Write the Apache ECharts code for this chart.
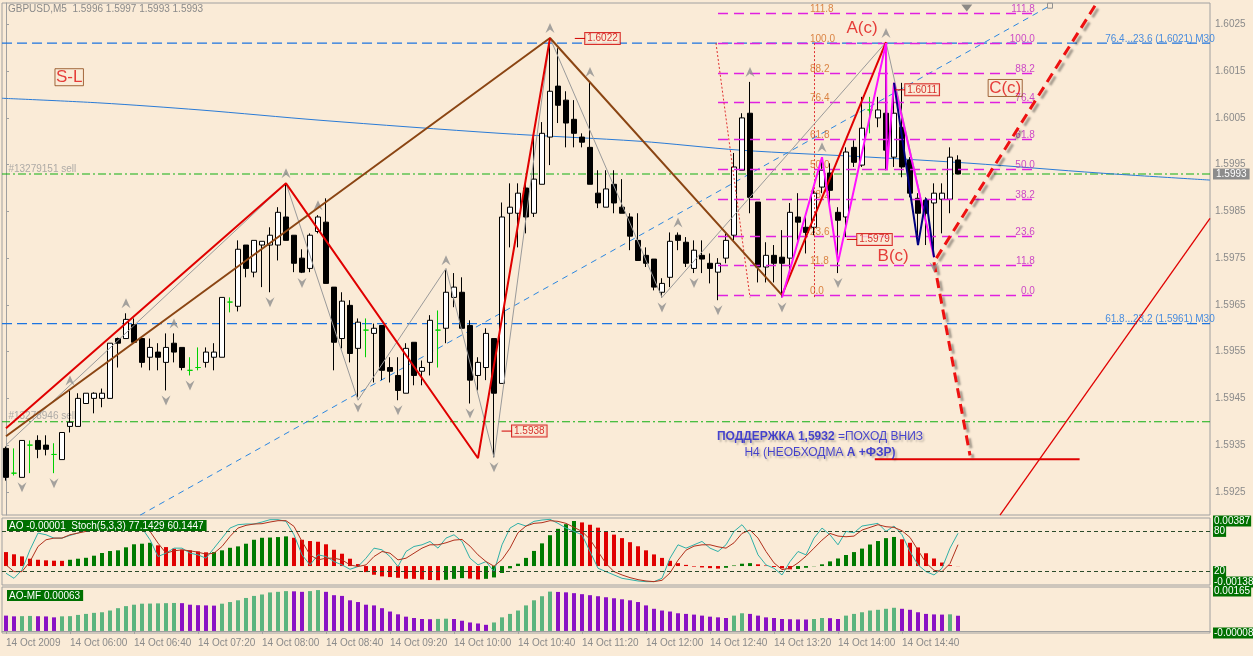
<!DOCTYPE html>
<html><head><meta charset="utf-8">
<script src="https://cdn.jsdelivr.net/npm/echarts@6/dist/echarts.min.js"></script>
<style>html,body{margin:0;padding:0;background:#faebd7;}#c{width:1253px;height:656px;}</style>
</head><body><div id="c"></div>
<script>
// ---------------- DATA ----------------
const symbolName = 'GBPUSD,M5';
const startTime = '05:20';
const slotCount = 151;
const opens=[1.59343,1.59290,1.59281,1.59350,1.59360,1.59350,1.59330,1.59319,1.59390,1.59390,1.59439,1.59450,1.59450,1.59450,1.59578,1.59578,1.59608,1.59578,1.59538,1.59549,1.59527,1.59568,1.59559,1.59510,1.59516,1.59527,1.59538,1.59538,1.59656,1.59647,1.59778,1.59720,1.59778,1.59778,1.59778,1.59838,1.59799,1.59750,1.59728,1.59807,1.59827,1.59688,1.59578,1.59649,1.59557,1.59596,1.59589,1.59606,1.59516,1.59499,1.59461,1.59570,1.59508,1.59527,1.59596,1.59600,1.59666,1.59677,1.59606,1.59499,1.59516,1.59578,1.59482,1.59846,1.59846,1.59900,1.59846,1.59908,1.60009,1.60118,1.60088,1.60047,1.60009,1.59987,1.59889,1.59859,1.59908,1.59859,1.59838,1.59788,1.59756,1.59748,1.59677,1.59709,1.59799,1.59784,1.59728,1.59756,1.59739,1.59720,1.59750,1.59799,1.59938,1.60060,1.59870,1.59731,1.59756,1.59752,1.59750,1.59838,1.59816,1.59816,1.59902,1.59932,1.59848,1.59838,1.59987,1.59949,1.60067,1.60050,1.60060,1.59966,1.60030,1.59960,1.59878,1.59874,1.59868,1.59876,1.59876,1.59960];
const closes=[1.59281,1.59290,1.59360,1.59350,1.59341,1.59341,1.59330,1.59377,1.59399,1.59450,1.59461,1.59461,1.59461,1.59568,1.59568,1.59619,1.59570,1.59527,1.59559,1.59538,1.59559,1.59549,1.59516,1.59510,1.59516,1.59549,1.59549,1.59666,1.59656,1.59769,1.59728,1.59788,1.59786,1.59799,1.59848,1.59788,1.59739,1.59720,1.59799,1.59838,1.59696,1.59570,1.59658,1.59546,1.59613,1.59596,1.59600,1.59510,1.59508,1.59467,1.59557,1.59499,1.59516,1.59617,1.59596,1.59677,1.59688,1.59600,1.59489,1.59527,1.59589,1.59461,1.59838,1.59859,1.59889,1.59838,1.59919,1.60017,1.60107,1.60077,1.60039,1.60017,1.59998,1.59908,1.59868,1.59898,1.59868,1.59846,1.59797,1.59745,1.59739,1.59688,1.59696,1.59786,1.59788,1.59739,1.59767,1.59748,1.59728,1.59739,1.59788,1.59945,1.60050,1.59880,1.59731,1.59756,1.59739,1.59739,1.59848,1.59827,1.59805,1.59889,1.59938,1.59895,1.59831,1.59977,1.59955,1.60028,1.60067,1.60067,1.59981,1.60060,1.59945,1.59889,1.59846,1.59846,1.59889,1.59889,1.59966,1.59930];
const lows=[1.59274,1.59285,1.59281,1.59290,1.59322,1.59328,1.59290,1.59319,1.59377,1.59390,1.59439,1.59418,1.59431,1.59450,1.59516,1.59578,1.59570,1.59516,1.59510,1.59510,1.59467,1.59527,1.59510,1.59499,1.59510,1.59516,1.59510,1.59538,1.59634,1.59636,1.59709,1.59709,1.59688,1.59677,1.59745,1.59788,1.59720,1.59718,1.59720,1.59803,1.59696,1.59510,1.59557,1.59527,1.59452,1.59538,1.59484,1.59489,1.59484,1.59446,1.59461,1.59478,1.59478,1.59499,1.59516,1.59568,1.59645,1.59600,1.59439,1.59467,1.59489,1.59324,1.59482,1.59773,1.59773,1.59803,1.59838,1.59908,1.59949,1.60039,1.59987,1.59987,1.59987,1.59908,1.59857,1.59859,1.59846,1.59846,1.59767,1.59745,1.59731,1.59681,1.59666,1.59688,1.59767,1.59731,1.59718,1.59718,1.59696,1.59660,1.59739,1.59788,1.59938,1.59846,1.59698,1.59698,1.59698,1.59666,1.59724,1.59788,1.59760,1.59799,1.59889,1.59859,1.59718,1.59795,1.59945,1.59945,1.60017,1.60030,1.59938,1.59945,1.59923,1.59880,1.59788,1.59778,1.59752,1.59803,1.59846,1.59930];
const highs=[1.59347,1.59343,1.59360,1.59360,1.59371,1.59371,1.59354,1.59377,1.59467,1.59461,1.59461,1.59463,1.59471,1.59568,1.59580,1.59632,1.59621,1.59580,1.59578,1.59568,1.59589,1.59589,1.59559,1.59538,1.59559,1.59559,1.59568,1.59666,1.59666,1.59788,1.59778,1.59788,1.59786,1.59816,1.59859,1.59910,1.59799,1.59769,1.59803,1.59842,1.59878,1.59688,1.59677,1.59660,1.59621,1.59621,1.59610,1.59606,1.59538,1.59538,1.59568,1.59570,1.59531,1.59628,1.59638,1.59724,1.59718,1.59709,1.59617,1.59538,1.59600,1.59578,1.59869,1.59910,1.59910,1.59910,1.60017,1.60041,1.60221,1.60199,1.60107,1.60088,1.60017,1.60127,1.59938,1.59938,1.59938,1.59919,1.59846,1.59846,1.59773,1.59748,1.59707,1.59805,1.59805,1.59795,1.59788,1.59788,1.59760,1.59750,1.59803,1.59975,1.60060,1.60127,1.59870,1.59784,1.59778,1.59810,1.59868,1.59889,1.59838,1.59906,1.59966,1.59953,1.59859,1.59987,1.60002,1.60095,1.60095,1.60095,1.60210,1.60125,1.60125,1.59966,1.59889,1.59880,1.59910,1.59910,1.59987,1.59970];

const aoValues=[0.00120,0.00101,0.00083,0.00063,0.00054,0.00049,0.00046,0.00045,0.00054,0.00063,0.00071,0.00089,0.00112,0.00129,0.00135,0.00161,0.00187,0.00192,0.00200,0.00178,0.00163,0.00149,0.00140,0.00135,0.00126,0.00118,0.00120,0.00135,0.00157,0.00169,0.00192,0.00226,0.00243,0.00245,0.00249,0.00255,0.00243,0.00226,0.00215,0.00209,0.00187,0.00140,0.00106,0.00063,0.00017,-0.00052,-0.00075,-0.00089,-0.00095,-0.00101,-0.00109,-0.00110,
-0.00115,-0.00120,-0.00122,-0.00118,-0.00110,-0.00104,-0.00108,-0.00115,-0.00110,-0.00098,-0.00060,-0.00020,0.00020,0.00070,0.00130,0.00195,0.00265,0.00320,0.00360,0.00387,0.00375,0.00355,0.00330,0.00300,0.00270,0.00240,0.00205,0.00170,0.00135,0.00100,0.00070,0.00045,0.00025,0.00010,-0.00005,-0.00012,-0.00018,-0.00022,-0.00015,0.00005,0.00020,0.00025,0.00015,0.00005,-0.00008,-0.00020,-0.00028,-0.00025,-0.00015,-0.00002,0.00015,0.00040,0.00065,0.00095,0.00120,0.00150,0.00185,0.00215,0.00240,0.00250,0.00230,0.00200,0.00160,0.00110,0.00065,0.00030,0.00008,-0.00001];
const stochMain=[17.5,10,22.5,52.5,77.5,75,70,70,74,77.5,82.5,87.5,92.5,92.5,90,90,82.5,85,67.5,42.5,47.5,55,55,47.5,45,40,55,70,85,90,91,91,94,97.5,97.5,95,75,45,30,45,42.5,35,30,23.5,27.5,40,55,52.5,42.5,27.5,50,57.5,
60,65,55,70,75,65,40,30,35,20,60,85,92,88,95,97,98,92,85,80,75,50,25,20,15,10,8,6,5,5,10,40,60,55,60,65,55,50,60,80,90,75,45,30,25,15,35,50,45,70,85,75,60,80,78,88,90,92,80,88,75,50,30,20,15,25,55,77.1429];
const stochSignal=[30,20,20,35,57.5,67.5,70,70,75,77.5,80,85,87.5,91,92.5,94,92.5,90,80,62.5,47.5,51,52.5,51,49,46,47.5,57.5,72.5,85,89,91,91.5,94,96,96,87.5,65,45,37.5,40,40,37.5,30,27.5,30,42.5,50,47.5,37.5,40,47.5,
55,60,60,63,67,68,58,45,35,28,38,55,78,88,92,93,96,95,92,86,80,68,50,32,20,15,11,8,6,5,7,18,37,52,58,60,60,57,55,63,77,82,70,50,33,23,25,33,43,55,67,77,73,72,73,82,86,90,87,86,81,71,52,33,22,20,32,60.1447];
const aomfValues=[0.000635,0.000605,0.000613,0.000622,0.000609,0.000601,0.000563,0.000605,0.000613,0.000664,0.000706,0.000749,0.000774,0.000846,0.000943,0.001028,0.001087,0.001129,0.001134,0.001142,0.001151,0.001159,0.001151,0.001087,0.001066,0.001058,0.001049,0.001129,0.001197,0.001269,0.001366,0.001451,0.001510,0.001595,0.001620,0.001650,0.001641,0.001620,0.001650,0.001692,0.001620,0.001481,0.001451,0.001269,0.001197,0.001087,0.001058,0.000943,0.000804,0.000689,0.000592,0.000537,
0.000495,0.000486,0.000499,0.000508,0.000495,0.000423,0.000351,0.000309,0.000254,0.000351,0.000563,0.000706,0.000846,0.001058,0.001269,0.001438,0.001629,0.001616,0.001599,0.001565,0.001523,0.001481,0.001438,0.001396,0.001354,0.001311,0.001269,0.001197,0.001058,0.000918,0.000846,0.000804,0.000732,0.000706,0.000677,0.000635,0.000592,0.000563,0.000537,0.000635,0.000732,0.000706,0.000635,0.000563,0.000537,0.000495,0.000486,0.000478,0.000474,0.000495,0.000537,0.000529,0.000495,0.000635,0.000706,0.000774,0.000846,0.000876,0.000918,0.000960,0.000918,0.000876,0.000774,0.000706,0.000685,0.000677,0.000689,0.00063];

const priceTicks=[1.5925,1.5935,1.5945,1.5955,1.5965,1.5975,1.5985,1.5995,1.6005,1.6015,1.6025];
const aoTicks=[0.00387,-0.00138];
const stochTicks=[80,20];
const aomfTicks=[0.00165,-0.00008];

// drawn objects (bar index, price)
const redZigzag1=[[0,1.59386],[35,1.59910],[59,1.59322],[68,1.60221]];
const redZigzag2=[[97,1.59671],[110,1.60212]];
const brownZigzag=[[0,1.59369],[68,1.60221],[97,1.59671]];
const grayZigzag=[[0,1.59350],[35,1.59910],[44,1.59446],[55,1.59728],[61,1.59324],[68,1.60221],[82,1.59666],[110,1.60212],[116,1.59752]];
const pinkZigzag=[[97,1.59666],[102,1.59966],[104,1.59741],[110,1.60210],[110.1,1.59938],[111,1.60125],[116,1.59752]];
const navyZigzag=[[111,1.60125],[114,1.59778],[115,1.59878],[116,1.59752]];
const blueCurve=[[-0.5,1.60092],[11.75,1.60082],[24.25,1.60067],[39.25,1.60045],[61.75,1.60017],[79.25,1.60000],[91.75,1.59981],[108,1.59966],[120.5,1.59953],[136.75,1.59932],[150.5,1.59917]];
const blueRising=[[16.75,1.59200],[130.5,1.60290]];
const arrowUp=[[116.3,1.59750],[136.2,1.60292]];
const arrowDown=[[116,1.59741],[120.5,1.59328]];
const supportLine=[[108.6,1.5932],[134.2,1.5932]];
const redDiagonal=[[124.25,1.59200],[150.5,1.59835]];
const m30Levels=[1.6021,1.5961];
const m30Labels=['76.4...23.6 (1.6021) M30','61.8...23.2 (1.5961) M30'];
const orderLevels=[1.5993,1.5940];
const orderLabels=['#13279151 sell','#13278946 sell'];
const fibRatios=[0,11.8,23.6,38.2,50,61.8,76.4,88.2,100,111.8];
const fibLow=1.59670, fibHigh=1.60210, fibFrom=89, fibTo=128.6, fibLabelAt=100.5;
const fibDotSlant=[[88.75,1.60210],[93,1.59666]];
const fibDotVert=[[101,1.60210],[101,1.59666]];
const priceBoxes=[[72.4,1.6022,'1.6022'],[63.25,1.5938,'1.5938'],[112.4,1.6011,'1.6011'],[106.4,1.5979,'1.5979']];
const waveLabels=[[107,1.60242,'A(c)'],[110.9,1.59754,'B(c)']];
const boxedLabels=[[124.9,1.60114,'C(c)'],[7.9,1.60137,'S-L']];
const noteLines=[[101.75,1.59367,'{b|ПОДДЕРЖКА 1,5932 }{n|=ПОХОД ВНИЗ}'],[101.75,1.59334,'{n|Н4 (НЕОБХОДМА }{b|А +ФЗР)}']];
const upFractals=[8,15,21,35,39,55,68,73,84,93,102,110];
const downFractals=[2,6,20,23,33,37,44,49,58,61,82,86,89,97,104,116];
const shiftMarker=[[120.1,1.60285]];

// ---------------- BUILD ----------------
const [sh,sm]=startTime.split(':').map(Number);
const categories=[];
for(let i=0;i<slotCount;i++){const t=sh*60+sm+5*i;categories.push(String(Math.floor(t/60)).padStart(2,'0')+':'+String(t%60).padStart(2,'0'));}
const nBars=opens.length;
const FONT='"Liberation Sans", Arial, sans-serif';
const GREEN_DOJI='#00d000';
const candleData=opens.map((o,i)=>{
  const v=[o,closes[i],lows[i],highs[i]];
  if(o===closes[i]) return {value:v,itemStyle:{color:GREEN_DOJI,color0:GREEN_DOJI,borderColor:GREEN_DOJI,borderColor0:GREEN_DOJI}};
  return v;
});
const aoData=aoValues.map((v,i)=>({value:v,itemStyle:{color:(i>0&&v>aoValues[i-1])?'#007a00':'#e00000'}}));
const aomfData=aomfValues.map((v,i)=>({value:v,itemStyle:{color:(i>0&&v>=aomfValues[i-1])?'#5cb47e':'#8a10c4'}}));
const labelShow=(idx)=>idx%8===0&&idx<nBars;

function line(pts,color,width,type,z,extra){
  return Object.assign({type:'line',xAxisIndex:1,yAxisIndex:0,data:pts,symbol:'none',silent:true,animation:false,z:z||5,
    itemStyle:{color:color},
    lineStyle:{color:color,width:width,type:type||'solid'}},extra||{});
}
function segs(pairs,style,z,extra){
  return Object.assign({type:'line',xAxisIndex:1,yAxisIndex:0,data:[],silent:true,animation:false,z:z||5,
    itemStyle:{color:style.color},
    markLine:Object.assign({silent:true,animation:false,symbol:['none','none'],label:{show:false},lineStyle:style,
      data:pairs.map(p=>[{coord:p[0]},{coord:p[1]}])},extra||{})});
}
function texts(items,label,z){
  return {type:'scatter',xAxisIndex:1,yAxisIndex:0,symbol:'circle',symbolSize:1,silent:true,animation:false,z:z||8,
    itemStyle:{color:'rgba(0,0,0,0)'},
    data:items.map(d=>({value:[d[0],d[1]],name:d[2]})),
    label:Object.assign({show:true,position:'inside',formatter:'{b}',fontFamily:FONT},label)};
}

const fibPrices=fibRatios.map(r=>fibLow+(fibHigh-fibLow)*r/100);
const series=[];
// horizontal reference lines
m30Levels.forEach(p=>series.push(line([[-0.5,p],[slotCount-0.5,p]],'#1c74e0',1.2,[10,5],3)));
series.push(line([[-0.5,orderLevels[1]],[slotCount-0.5,orderLevels[1]]],'#10b010',1.2,[8,3,2,3],3));
series.push(line([[-0.5,orderLevels[0]],[slotCount-0.5,orderLevels[0]]],'#10b010',1.2,[8,3,2,3],3,{
  endLabel:{show:true,formatter:()=>orderLevels[0].toFixed(4),color:'#ffffff',backgroundColor:'#8c8c8c',padding:[1,3,0,3],fontSize:10,fontFamily:FONT,distance:3}}));
// price box ticks
priceBoxes.forEach(b=>series.push(line([[b[0]-1.3,b[1]],[b[0],b[1]]],'#d00000',1,'solid',8)));
// fib
series.push(segs(fibPrices.map(p=>[[fibFrom,p],[fibTo,p]]),{color:'#e020e0',width:1.3,type:[10,6]},2));
series.push(segs([fibDotSlant,fibDotVert],{color:'#e03030',width:1,type:[2,2]},2));
// blue lines
series.push(line(blueCurve,'#2a7bd6',1,'solid',3,{smooth:0.3}));
series.push(line(blueRising,'#2a86e0',1,[6,5],3,{symbol:['none','rect'],symbolSize:5,showSymbol:true,itemStyle:{color:'#faebd7',borderColor:'#909090',borderWidth:1}}));
// candles
series.push({type:'candlestick',xAxisIndex:0,yAxisIndex:0,data:candleData,barWidth:5,z:4,animation:false,silent:true,
  itemStyle:{color:'#ffffff',color0:'#000000',borderColor:'#000000',borderColor0:'#000000',borderColorDoji:GREEN_DOJI,borderWidth:1}});
// zigzags
series.push(line(grayZigzag,'#9a9a9a',1,'solid',5));
series.push(line(brownZigzag,'#8b4513',2,'solid',6));
series.push(line(redZigzag1,'#e00000',2,'solid',6));
series.push(line(redZigzag2,'#e00000',2,'solid',6));
series.push(line(pinkZigzag,'#ff10ff',2,'solid',7));
series.push(line(navyZigzag,'#000080',2,'solid',7));
series.push(line(supportLine,'#e00000',2,'solid',6));
series.push(line(redDiagonal,'#e00000',1.3,'solid',6));
// arrows
series.push(segs([arrowUp,arrowDown],{color:'#ee1111',width:3,type:[10,6],shadowColor:'rgba(0,0,0,0.35)',shadowBlur:2,shadowOffsetX:3,shadowOffsetY:3},9,{symbol:['none','arrow'],symbolSize:[0,16]}));
// fractal markers
const arrowPath='path://M5,0 L10,10 L5,6.5 L0,10 Z';
series.push({type:'scatter',xAxisIndex:0,yAxisIndex:0,symbol:arrowPath,symbolSize:[9,10],symbolOffset:[0,-10],silent:true,animation:false,z:5,
  itemStyle:{color:'#8e8e8e'},data:upFractals.map(i=>[i,highs[i]])});
series.push({type:'scatter',xAxisIndex:0,yAxisIndex:0,symbol:arrowPath,symbolRotate:180,symbolSize:[9,10],symbolOffset:[0,10],silent:true,animation:false,z:5,
  itemStyle:{color:'#8e8e8e'},data:downFractals.map(i=>[i,lows[i]])});
series.push({type:'scatter',xAxisIndex:1,yAxisIndex:0,symbol:'triangle',symbolRotate:180,symbolSize:[11,7],silent:true,animation:false,z:9,
  itemStyle:{color:'#707070'},data:shiftMarker});
// texts
series.push(texts(fibPrices.map((p,i)=>[fibLabelAt,p,fibRatios[i].toFixed(1)]),{align:'left',verticalAlign:'bottom',color:'#d2691e',fontSize:10,offset:[0,1]},3));
series.push(texts(fibPrices.map((p,i)=>[fibTo,p,fibRatios[i].toFixed(1)]),{align:'right',verticalAlign:'bottom',color:'#c020c0',fontSize:10,offset:[0,1]},3));
series.push(texts(m30Levels.map((p,i)=>[137.4,p,m30Labels[i]]),{align:'left',verticalAlign:'bottom',color:'#1c74e0',fontSize:10,offset:[0,1]},3));
series.push(texts(orderLevels.map((p,i)=>[0.3,p,orderLabels[i]]),{align:'left',verticalAlign:'bottom',color:'#9a9a9a',fontSize:10,offset:[0,0]},3));
series.push(texts(priceBoxes,{align:'left',verticalAlign:'middle',color:'#d00000',fontSize:10,borderColor:'#d00000',borderWidth:1,backgroundColor:'#faebd7',padding:[1,2,0,2]},9));
series.push(texts(waveLabels,{align:'center',verticalAlign:'middle',color:'#e01010',fontSize:17},9));
series.push(texts(boxedLabels,{align:'center',verticalAlign:'middle',color:'#e01010',fontSize:17,borderColor:'#8b4513',borderWidth:1,padding:[0,1,0,1]},9));
series.push(texts(noteLines,{align:'center',verticalAlign:'middle',
  rich:{b:{fontWeight:'bold',color:'#1a1acc',fontSize:12,fontFamily:FONT,textShadowColor:'rgba(0,0,0,0.3)',textShadowOffsetX:2,textShadowOffsetY:2,textShadowBlur:2},
        n:{color:'#1a1acc',fontSize:12,fontFamily:FONT,textShadowColor:'rgba(0,0,0,0.3)',textShadowOffsetX:2,textShadowOffsetY:2,textShadowBlur:2}}},9));
// indicator panels
series.push({type:'bar',xAxisIndex:2,yAxisIndex:1,data:aoData,barWidth:4,silent:true,animation:false,z:2});
series.push({type:'line',xAxisIndex:2,yAxisIndex:2,data:stochMain,symbol:'none',silent:true,animation:false,z:4,itemStyle:{color:'#30b0a8'},lineStyle:{color:'#30b0a8',width:1},
  markLine:{silent:true,symbol:['none','none'],label:{show:false},lineStyle:{color:'#2a4a2a',type:[4,3],width:1},data:stochTicks.map(v=>({yAxis:v}))}});
series.push({type:'line',xAxisIndex:2,yAxisIndex:2,data:stochSignal,symbol:'none',silent:true,animation:false,z:4,itemStyle:{color:'#b0301c'},lineStyle:{color:'#b0301c',width:1}});
series.push({type:'bar',xAxisIndex:3,yAxisIndex:3,data:aomfData,barWidth:4,silent:true,animation:false,z:2});

const greenLabel={color:'#ffffff',backgroundColor:'#007000',padding:[1,1,0,1],fontSize:10,fontFamily:FONT,margin:3};
const last=nBars-1;
const option={
  backgroundColor:'#faebd7',
  animation:false,
  grid:[
    {left:2,top:3,width:1208,height:512,show:true,borderColor:'#a0a0a0',borderWidth:1,backgroundColor:'transparent',outerBoundsMode:'none'},
    {left:2,top:518,width:1208,height:67,show:true,borderColor:'#a0a0a0',borderWidth:1,outerBoundsMode:'none'},
    {left:2,top:587,width:1208,height:46,show:true,borderColor:'#a0a0a0',borderWidth:1,outerBoundsMode:'none'}
  ],
  xAxis:[
    {type:'category',gridIndex:0,data:categories,boundaryGap:true,show:false},
    {type:'value',gridIndex:0,min:-0.5,max:slotCount-0.5,show:false},
    {type:'category',gridIndex:1,data:categories,boundaryGap:true,show:false},
    {type:'category',gridIndex:2,data:categories,boundaryGap:true,
      axisLine:{lineStyle:{color:'#a0a0a0'}},
      axisTick:{show:true,interval:labelShow,alignWithLabel:true,length:3,lineStyle:{color:'#a0a0a0'}},
      axisLabel:{interval:labelShow,align:'left',margin:5,color:'#8a8a8a',fontSize:10,fontFamily:FONT,
        formatter:(v,i)=>i===0?'14 Oct 2009':'14 Oct '+v},
      splitLine:{show:false}}
  ],
  yAxis:[
    {type:'value',gridIndex:0,position:'right',min:1.592005,max:1.602958,scale:true,
      axisLine:{show:true,lineStyle:{color:'#a0a0a0'}},
      axisTick:{show:true,length:3,customValues:priceTicks,lineStyle:{color:'#a0a0a0'}},
      axisLabel:{customValues:priceTicks,formatter:v=>v.toFixed(4),color:'#8a8a8a',fontSize:10,fontFamily:FONT,margin:5},
      splitLine:{show:false}},
    {type:'value',gridIndex:1,position:'right',min:-0.00163,max:0.00413,
      axisLine:{show:false},axisTick:{show:false},splitLine:{show:false},
      axisLabel:Object.assign({customValues:aoTicks,formatter:v=>v.toFixed(5)},greenLabel)},
    {type:'value',gridIndex:1,position:'right',min:0,max:100,
      axisLine:{show:false},axisTick:{show:false},splitLine:{show:false},
      axisLabel:Object.assign({customValues:stochTicks,formatter:v=>String(v)},greenLabel)},
    {type:'value',gridIndex:2,position:'right',min:-0.000085,max:0.00182,
      axisLine:{show:false},axisTick:{show:false},splitLine:{show:false},
      axisLabel:Object.assign({customValues:aomfTicks,formatter:v=>v.toFixed(5)},greenLabel)}
  ],
  graphic:[
    {type:'text',left:8,top:4,silent:true,style:{text:symbolName+'  '+[opens[last],highs[last],lows[last],closes[last]].map(v=>v.toFixed(4)).join(' '),fill:'#8a8a8a',font:'10px '+FONT}},
    {type:'text',left:7,top:520,silent:true,z:20,style:{text:'AO '+aoValues[last].toFixed(5)+'  Stoch(5,3,3) '+stochMain[last].toFixed(4)+' '+stochSignal[last].toFixed(4),fill:'#ffffff',backgroundColor:'#007000',padding:[1,3,0,2],font:'10px '+FONT}},
    {type:'text',left:7,top:590,silent:true,z:20,style:{text:'AO-MF '+aomfValues[last].toFixed(5),fill:'#ffffff',backgroundColor:'#007000',padding:[1,3,0,2],font:'10px '+FONT}}
  ],
  series:series
};
const chart=echarts.init(document.getElementById('c'),null,{renderer:'canvas'});
chart.setOption(option);
</script>
</body></html>
